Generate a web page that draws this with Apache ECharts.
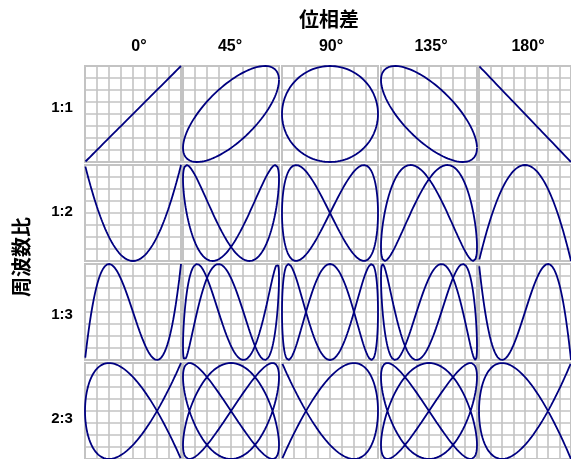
<!DOCTYPE html>
<html>
<head>
<meta charset="utf-8">
<script src="https://cdn.jsdelivr.net/npm/echarts@6/dist/echarts.min.js"></script>
<style>
html, body { margin: 0; padding: 0; background: #fff; }
#chart { width: 571px; height: 459px; }
</style>
</head>
<body>
<div id="chart"></div>
<script>
// Phase differences (columns) and frequency ratios x:y (rows)
const phaseDegrees = [0, 45, 90, 135, 180];
const phaseLabels = ['0°', '45°', '90°', '135°', '180°'];
const ratioX = [1, 1, 1, 2];
const ratioY = [1, 2, 3, 3];
const ratioLabels = ['1:1', '1:2', '1:3', '2:3'];
const titleText = '位相差';
const yTitleText = '周波数比';

// Layout of the panel grid
const colLeft = [85, 183, 282, 381, 479];
const rowTop = [66, 165, 264, 363];
const cellSize = 96;
const colLabelX = [139, 230, 331, 431, 528];
const rowLabelY = [108, 212, 315, 419];
const SAMPLES = 480;

const LINE_COLOR = '#000080';
const GRID_COLOR = '#c3c3c3';
const CJK_FONT = '"Noto Sans CJK JP", "Noto Sans", sans-serif';
const LATIN_FONT = '"Liberation Sans", Arial, sans-serif';

// Lissajous curve x = cos(a t), y = cos(b t + phi)
function lissajous(a, b, phiDeg) {
  const phi = phiDeg * Math.PI / 180;
  const pts = [];
  for (let i = 0; i <= SAMPLES; i++) {
    const t = 2 * Math.PI * i / SAMPLES;
    pts.push([Math.cos(a * t), Math.cos(b * t + phi)]);
  }
  return pts;
}

const grids = [], xAxes = [], yAxes = [], series = [];
const axisCommon = {
  type: 'value', min: -1, max: 1, interval: 0.25,
  axisLabel: { show: false }, axisTick: { show: false }, axisLine: { show: false },
  splitLine: { show: true, lineStyle: { color: GRID_COLOR, width: 1.6 } }
};

ratioLabels.forEach((_, r) => {
  phaseDegrees.forEach((phi, c) => {
    const idx = grids.length;
    grids.push({
      left: colLeft[c], top: rowTop[r], width: cellSize, height: cellSize,
      show: true, borderColor: GRID_COLOR, borderWidth: 2, backgroundColor: '#fff'
    });
    xAxes.push(Object.assign({ gridIndex: idx }, axisCommon));
    yAxes.push(Object.assign({ gridIndex: idx }, axisCommon));
    series.push({
      type: 'line', xAxisIndex: idx, yAxisIndex: idx,
      data: lissajous(ratioX[r], ratioY[r], phi),
      showSymbol: false, smooth: false, silent: true, clip: false,
      lineStyle: { color: LINE_COLOR, width: 1.8 }
    });
  });
});

const graphics = [];
graphics.push({
  type: 'text', x: 329, y: 19,
  style: { text: titleText, font: 'bold 20px ' + CJK_FONT, fill: '#000', align: 'center', verticalAlign: 'middle' }
});
graphics.push({
  type: 'text', x: 21, y: 257, rotation: Math.PI / 2,
  style: { text: yTitleText, font: 'bold 20px ' + CJK_FONT, fill: '#000', align: 'center', verticalAlign: 'middle' }
});
phaseLabels.forEach((t, c) => {
  graphics.push({
    type: 'text', x: colLabelX[c], y: 47,
    style: { text: t, font: 'bold 16px ' + LATIN_FONT, fill: '#000', align: 'center', verticalAlign: 'middle' }
  });
});
ratioLabels.forEach((t, r) => {
  graphics.push({
    type: 'text', x: 62, y: rowLabelY[r],
    style: { text: t, font: 'bold 15px ' + LATIN_FONT, fill: '#000', align: 'center', verticalAlign: 'middle' }
  });
});

const chart = echarts.init(document.getElementById('chart'), null, { renderer: 'canvas' });
chart.setOption({
  animation: false,
  backgroundColor: '#fff',
  grid: grids,
  xAxis: xAxes,
  yAxis: yAxes,
  series: series,
  graphic: graphics
});
</script>
</body>
</html>
